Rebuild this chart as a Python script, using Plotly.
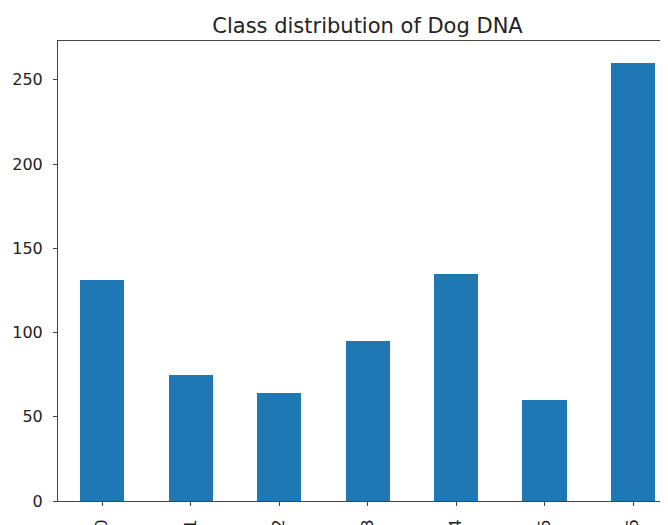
import plotly.graph_objects as go

categories = ["0", "1", "2", "3", "4", "5", "6"]
counts = [131, 75, 64, 95, 135, 60, 260]
y_ticks = [0, 50, 100, 150, 200, 250]

axis_color = "#444444"
text_color = "#222222"
font_family = "DejaVu Sans"

# The page body has an 8px margin, so the figure is drawn 8px in from the
# window's top-left corner; the figure size and margins account for that.
W, H = 660, 517

fig = go.Figure()
fig.add_trace(go.Bar(
    x=list(range(len(categories))),
    y=counts,
    width=0.5,
    marker=dict(color="#1f77b4", line=dict(width=0)),
))

fig.update_layout(
    width=W,
    height=H,
    margin=dict(l=50, r=0, t=33, b=24, autoexpand=False),
    paper_bgcolor="white",
    plot_bgcolor="white",
    showlegend=False,
    font=dict(family=font_family, color=text_color),
    title=dict(
        text="Class distribution of Dog DNA",
        font=dict(family=font_family, size=21, color=text_color),
        xref="container", x=359.5 / W, xanchor="center",
        yref="container", y=1 - 18 / H, yanchor="middle",
    ),
    bargap=0,
)

fig.update_xaxes(
    range=[-0.5, 6.395],
    tickmode="array",
    tickvals=list(range(len(categories))),
    ticktext=categories,
    tickangle=-90,
    ticks="outside",
    ticklen=4,
    tickwidth=1,
    tickcolor=axis_color,
    ticklabelstandoff=7,
    showline=True,
    linecolor=axis_color,
    linewidth=1,
    mirror=True,
    showgrid=False,
    zeroline=False,
    tickfont=dict(family=font_family, size=16, color=text_color),
    automargin=False,
)

fig.update_yaxes(
    range=[0, 273],
    tickmode="array",
    tickvals=y_ticks,
    ticktext=[str(v) for v in y_ticks],
    ticks="outside",
    ticklen=4,
    tickwidth=1,
    tickcolor=axis_color,
    ticklabelstandoff=7,
    showline=True,
    linecolor=axis_color,
    linewidth=1,
    showgrid=False,
    zeroline=False,
    tickfont=dict(family=font_family, size=16, color=text_color),
    automargin=False,
)

fig.write_html("out.html")
